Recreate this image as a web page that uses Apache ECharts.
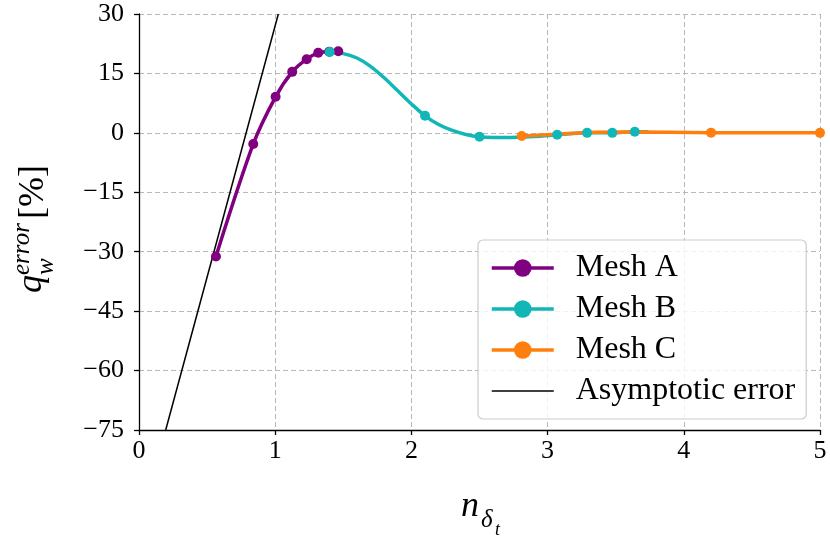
<!DOCTYPE html>
<html>
<head>
<meta charset="utf-8">
<script src="https://cdn.jsdelivr.net/npm/echarts@6/dist/echarts.min.js"></script>
<style>
html, body { margin: 0; padding: 0; background: #fff; }
#chart { width: 830px; height: 537px; }
</style>
</head>
<body>
<div id="chart"></div>
<script>
// Mesh A: sampled points (drawn with markers)
const meshAx = [0.565, 0.839, 1.003, 1.125, 1.231, 1.316, 1.397, 1.463];
const meshAy = [-31.2, -2.8, 9.1, 15.4, 18.6, 20.2, 20.5, 20.6];

// Mesh B: sampled points and the fitted curve between them
const meshBx = [1.40, 2.10, 2.50, 3.07, 3.29, 3.475, 3.64];
const meshBy = [20.4, 4.3, -1.0, -0.5, 0.0, 0.0, 0.3];
const meshBcurveX = [1.50, 1.60, 1.70, 1.80, 1.90, 2.00, 2.20, 2.30, 2.40, 2.60, 2.70, 2.90, 3.74];
const meshBcurveY = [20.0, 18.9, 16.8, 13.9, 10.6, 7.3, 2.1, 0.6, -0.4, -1.15, -1.15, -0.9, 0.3];

// Mesh C: sampled points and curve
const meshCx = [2.81, 4.20, 5.00];
const meshCy = [-0.8, 0.05, 0.0];
const meshCcurveX = [3.07, 3.30, 3.60];
const meshCcurveY = [-0.35, 0.1, 0.2];

// Asymptotic error line
const asymX = [0.196, 1.023];
const asymY = [-75, 30];

const legendNames = ['Mesh A', 'Mesh B', 'Mesh C', 'Asymptotic error'];
const xRange = [0, 5, 1];      // min, max, step
const yRange = [-75, 30, 15];  // min, max, step

const FONT = 'Liberation Serif';

function buildData(mx, my, cx, cy) {
  const pts = [];
  mx.forEach((x, i) => pts.push({ value: [x, my[i]], symbol: 'circle' }));
  (cx || []).forEach((x, i) => pts.push({ value: [x, cy[i]], symbol: 'none' }));
  pts.sort((a, b) => a.value[0] - b.value[0]);
  return pts;
}

function meshSeries(name, color, data) {
  return {
    name: name,
    type: 'line',
    data: data,
    smooth: 0.3,
    symbol: 'circle',
    symbolSize: 10,
    showAllSymbol: true,
    color: color,
    itemStyle: { color: color },
    lineStyle: { color: color, width: 3.5 },
    clip: true,
    animation: false
  };
}

const chart = echarts.init(document.getElementById('chart'), null, { renderer: 'canvas' });

const minus = v => String(v).replace('-', '\u2212');

chart.setOption({
  backgroundColor: '#ffffff',
  animation: false,
  grid: { left: 139, right: 10, top: 14, bottom: 107 },
  xAxis: {
    type: 'value',
    min: xRange[0], max: xRange[1], interval: xRange[2],
    axisLine: { show: true, onZero: false, lineStyle: { color: '#000', width: 1.3 } },
    axisTick: { show: true, length: 5, lineStyle: { color: '#000', width: 1.3 } },
    axisLabel: { fontFamily: FONT, fontSize: 26, color: '#000', margin: 8, formatter: minus },
    splitLine: { show: true, lineStyle: { color: '#b8b8b8', width: 1, type: [5, 3] } }
  },
  yAxis: {
    type: 'value',
    min: yRange[0], max: yRange[1], interval: yRange[2],
    axisLine: { show: true, onZero: false, lineStyle: { color: '#000', width: 1.3 } },
    axisTick: { show: true, length: 5, lineStyle: { color: '#000', width: 1.3 } },
    axisLabel: { fontFamily: FONT, fontSize: 26, color: '#000', margin: 15, formatter: minus },
    splitLine: { show: true, lineStyle: { color: '#b8b8b8', width: 1, type: [5, 3] } }
  },
  legend: {
    data: [
      legendNames[0], legendNames[1], legendNames[2],
      { name: legendNames[3], icon: 'path://M0,0 L62,0 L62,1.5 L0,1.5 Z' }
    ],
    orient: 'vertical',
    left: 478, top: 240,
    padding: [12, 11, 12, 12],
    itemWidth: 62, itemHeight: 22, itemGap: 9,
    selectedMode: false,
    lineStyle: { width: 3.5 },
    backgroundColor: 'rgba(255,255,255,0.82)',
    borderColor: '#cccccc', borderWidth: 1.2, borderRadius: 5,
    textStyle: { fontFamily: FONT, fontSize: 32, color: '#000', padding: [0, 0, 0, 17] }
  },
  series: [
    meshSeries('Mesh A', '#800080', buildData(meshAx, meshAy)),
    meshSeries('Mesh B', '#12b6b6', buildData(meshBx, meshBy, meshBcurveX, meshBcurveY)),
    meshSeries('Mesh C', '#ff7f0e', buildData(meshCx, meshCy, meshCcurveX, meshCcurveY)),
    {
      name: 'Asymptotic error',
      type: 'line',
      data: asymX.map((x, i) => [x, asymY[i]]),
      symbol: 'none',
      color: '#000',
      lineStyle: { color: '#000', width: 1.5 },
      clip: true,
      animation: false
    }
  ],
  graphic: [
    {
      // y-axis title, rotated to read upward
      type: 'group',
      x: 50, y: 219,
      rotation: Math.PI / 2,
      children: [
        { type: 'text', x: -74, y: 0, style: { text: 'q', fontFamily: FONT, fontStyle: 'italic', fontSize: 36, fill: '#000', verticalAlign: 'bottom' } },
        { type: 'text', x: -56, y: 9, style: { text: 'w', fontFamily: FONT, fontStyle: 'italic', fontSize: 25, fill: '#000', verticalAlign: 'bottom' } },
        { type: 'text', x: -56, y: -15, style: { text: 'error', fontFamily: FONT, fontStyle: 'italic', fontSize: 25, fill: '#000', verticalAlign: 'bottom' } },
        { type: 'text', x: 0, y: 2, style: { text: '[%]', fontFamily: FONT, fontSize: 36, fill: '#000', verticalAlign: 'bottom' } }
      ]
    },
    {
      // x-axis title
      type: 'group',
      x: 479, y: 525,
      children: [
        { type: 'text', x: -18, y: 0, style: { text: 'n', fontFamily: FONT, fontStyle: 'italic', fontSize: 36, fill: '#000', verticalAlign: 'bottom' } },
        { type: 'text', x: 2, y: 8, style: { text: 'δ', fontFamily: FONT, fontStyle: 'italic', fontSize: 25, fill: '#000', verticalAlign: 'bottom' } },
        { type: 'text', x: 16, y: 14, style: { text: 't', fontFamily: FONT, fontStyle: 'italic', fontSize: 18, fill: '#000', verticalAlign: 'bottom' } }
      ]
    }
  ]
});
</script>
</body>
</html>
